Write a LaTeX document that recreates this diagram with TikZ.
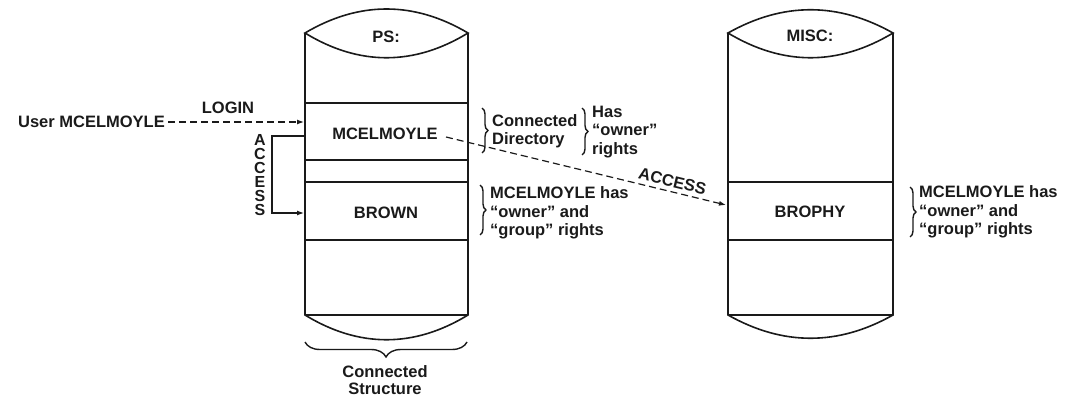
\documentclass[tikz,border=0pt]{standalone}
\usepackage{fontspec}
\setmainfont{Liberation Sans}
\usetikzlibrary{decorations.pathreplacing,arrows.meta}
\definecolor{ink}{HTML}{1A1A1A}
\begin{document}
\begin{tikzpicture}[x=1pt,y=-1pt,
  lbl/.style={font=\fontsize{16.5}{18.5}\selectfont\bfseries, text=ink, inner sep=0pt},
  cyl/.style={line width=1.6pt, draw=ink},
  dline/.style={draw=ink, line width=1.2pt, dash pattern=on 7pt off 4pt, -{Latex[length=7pt,width=5pt]}},
  sline/.style={draw=ink, line width=1.2pt, -{Latex[length=7pt,width=5pt]}},
  brc/.style={draw=ink, decorate, decoration={brace, amplitude=6pt}, line width=1.4pt},
]
\useasboundingbox (0,0) rectangle (1069,398);
% left cylinder
\draw[cyl] (305,33) .. controls (359,1) and (414,1) .. (468,33) .. controls (414,66) and (359,66) .. (305,33) -- cycle;
\draw[cyl] (305,33) -- (305,315) .. controls (359,348) and (414,348) .. (468,315) -- (468,33);
\foreach \y in {103,160,182,240,315} \draw[cyl] (305,\y) -- (468,\y);
% right cylinder
\draw[cyl] (728,33) .. controls (783,2) and (838,2) .. (893,33) .. controls (838,66) and (783,66) .. (728,33) -- cycle;
\draw[cyl] (728,33) -- (728,315) .. controls (783,346) and (838,346) .. (893,315) -- (893,33);
\foreach \y in {182,240,315} \draw[cyl] (728,\y) -- (893,\y);
% texts in cylinders
\node[lbl] (ps) at (386,37) {PS:};
\node[lbl] (misc) at (810,36) {MISC:};
\node[lbl] (mcel) at (385,134) {MCELMOYLE};
\node[lbl] (brown) at (386,213) {BROWN};
\node[lbl] (brophy) at (810,212) {BROPHY};
% login
\node[lbl, anchor=east] (user) at (165,122) {User MCELMOYLE};
\node[lbl] (login) at (228,108) {LOGIN};
\coordinate (loginend) at (304,122);
\draw[dline] ([xshift=3pt]user.east) -- (loginend);
% access bracket
\node[lbl, align=center, font=\fontsize{16}{14}\selectfont\bfseries] (accv) at (260,175) {A\\C\\C\\E\\S\\S};
\coordinate (a1) at (304,136);
\coordinate (a2) at (304,213);
\draw[sline] (a1) -- (272,136) -- (272,213) -- (a2);
% diagonal access
\coordinate (d1) at (446,137);
\coordinate (d2) at (726,205);
\draw[dline] (d1) -- (d2) node[lbl, pos=0.8, above=4pt, sloped] (acc) {ACCESS};
% braces and notes
\draw[brc] (482,108) -- (482,153);
\node[lbl, anchor=west, align=left] (conn) at (492,131) {Connected\\Directory};
\draw[brc] (582,108) -- (582,155);
\node[lbl, anchor=west, align=left] (has) at (592,132) {Has\\“owner”\\rights};
\draw[brc] (480,185) -- (480,235);
\node[lbl, anchor=west, align=left] (note1) at (490,213) {MCELMOYLE has\\“owner” and\\“group” rights};
\draw[brc] (910,187) -- (910,237);
\node[lbl, anchor=west, align=left] (note2) at (919,212) {MCELMOYLE has\\“owner” and\\“group” rights};
% bottom brace
\draw[brc, decoration={brace, amplitude=15pt}] (467,342) -- (305,342);
\node[lbl, align=center, font=\fontsize{16.5}{16.5}\selectfont\bfseries] (cs) at (385,380) {Connected\\Structure};
\end{tikzpicture}
\end{document}
